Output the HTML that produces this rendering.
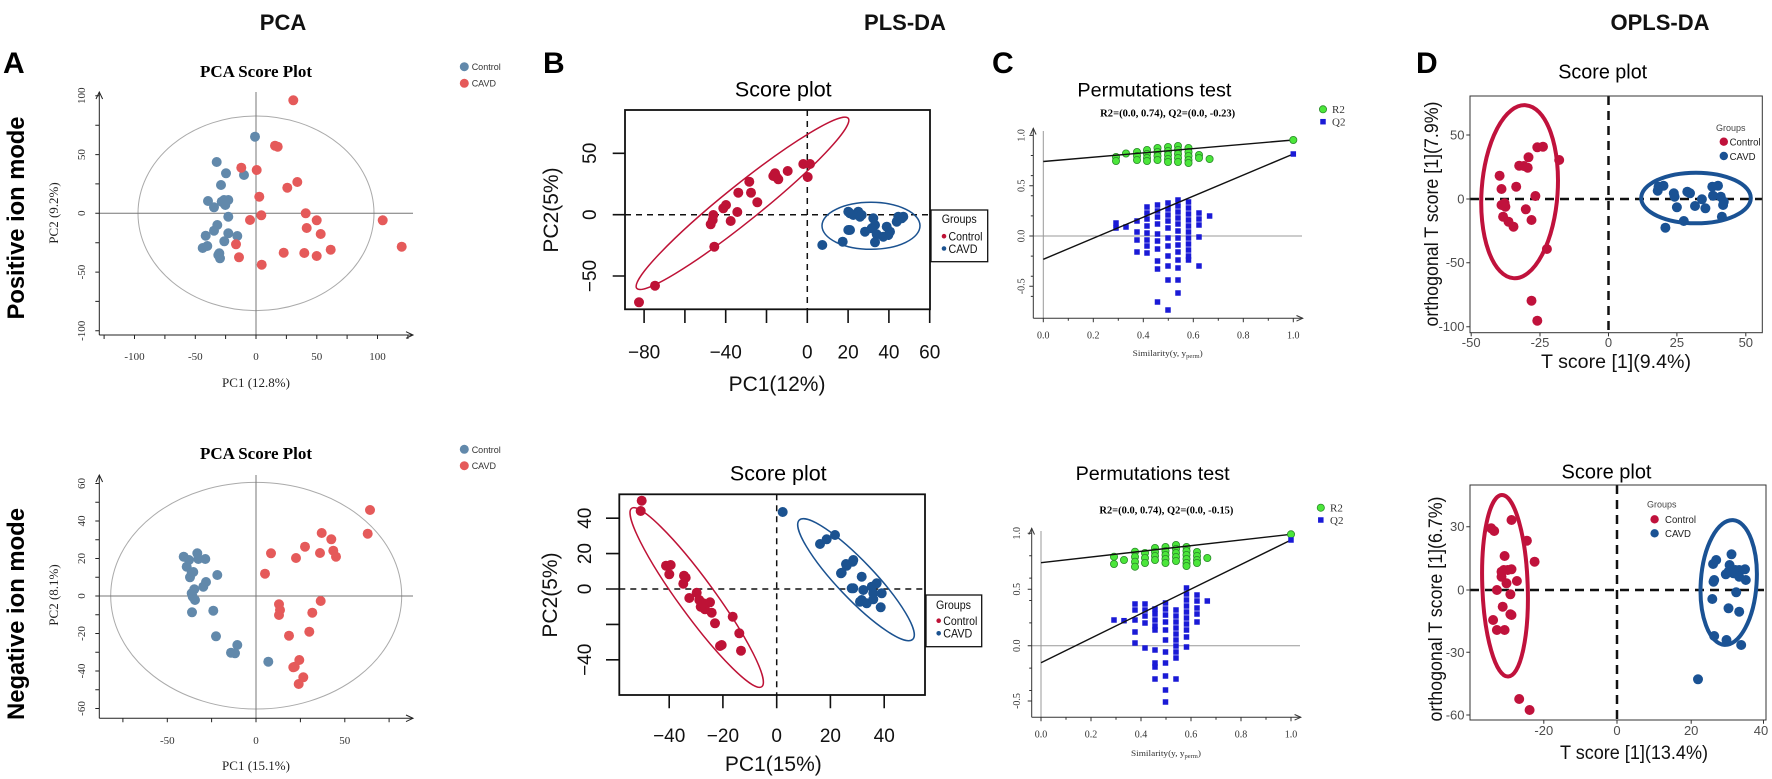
<!DOCTYPE html>
<html><head><meta charset="utf-8"><style>
html,body{margin:0;padding:0;background:#fff;}
svg{display:block;}
</style></head><body>
<svg width="1772" height="779" viewBox="0 0 1772 779" xmlns="http://www.w3.org/2000/svg" xmlns:xlink="http://www.w3.org/1999/xlink">
<defs>
<rect id="sq" x="-2.75" y="-2.75" width="5.5" height="5.5" fill="#1a1ad6"/>
<circle id="gc" r="3.6" fill="#4be63a" stroke="#2a8a2a" stroke-width="0.8"/>
</defs>
<rect width="1772" height="779" fill="#fff"/>

<!-- Headers -->
<g font-family="Liberation Sans, sans-serif" font-weight="bold" font-size="22" text-anchor="middle" fill="#111">
<text x="283" y="30">PCA</text>
<text x="905" y="30">PLS-DA</text>
<text x="1660" y="30">OPLS-DA</text>
</g>
<g font-family="Liberation Sans, sans-serif" font-weight="bold" font-size="30" fill="#000">
<text x="3" y="73">A</text>
<text x="543" y="73">B</text>
<text x="992" y="73">C</text>
<text x="1416" y="73">D</text>
</g>
<g font-family="Liberation Sans, sans-serif" font-weight="bold" font-size="24" text-anchor="middle" fill="#000">
<text transform="translate(24,218) rotate(-90)" textLength="203" lengthAdjust="spacingAndGlyphs">Positive ion mode</text>
<text transform="translate(24,614) rotate(-90)" textLength="212" lengthAdjust="spacingAndGlyphs">Negative ion mode</text>
</g>

<!-- ================= PANEL A TOP ================= -->
<text x="256" y="77" font-family="Liberation Serif, serif" font-weight="bold" font-size="17" text-anchor="middle">PCA Score Plot</text>
<circle cx="464.3" cy="66.7" r="4.5" fill="#6289ab"/>
<circle cx="464.3" cy="83.3" r="4.5" fill="#e55a5a"/>
<g font-family="Liberation Sans, sans-serif" font-size="9" fill="#333">
<text x="471.7" y="70">Control</text>
<text x="471.7" y="86.6">CAVD</text>
</g>
<ellipse cx="256" cy="213.3" rx="118" ry="97.3" fill="none" stroke="#aaa" stroke-width="1"/>
<g stroke="#777" stroke-width="1">
<line x1="256" y1="92" x2="256" y2="335"/>
<line x1="99.3" y1="213.3" x2="413" y2="213.3"/>
</g>
<g stroke="#222" stroke-width="1" fill="none">
<line x1="99.3" y1="335" x2="99.3" y2="92"/>
<polyline points="96,99 99.3,92 102.6,99"/>
<line x1="99.3" y1="335" x2="413" y2="335"/>
<polyline points="406,331.7 413,335 406,338.3"/>
<path d="M95.3 95.8H99.3M95.3 125.2H99.3M95.3 154.6H99.3M95.3 183.9H99.3M95.3 213.3H99.3M95.3 242.7H99.3M95.3 272.1H99.3M95.3 301.4H99.3M95.3 330.8H99.3"/>
<path d="M104.1 335V339M134.5 335V339M164.9 335V339M195.3 335V339M225.6 335V339M256 335V339M286.4 335V339M316.8 335V339M347.1 335V339M377.5 335V339M407.9 335V339"/>
</g>
<g font-family="Liberation Serif, serif" font-size="11" fill="#333" text-anchor="middle">
<text x="134.5" y="360">-100</text>
<text x="195.3" y="360">-50</text>
<text x="256" y="360">0</text>
<text x="316.8" y="360">50</text>
<text x="377.5" y="360">100</text>
<text transform="translate(85,95.8) rotate(-90)">100</text>
<text transform="translate(85,154.6) rotate(-90)">50</text>
<text transform="translate(85,213.3) rotate(-90)">0</text>
<text transform="translate(85,272.1) rotate(-90)">-50</text>
<text transform="translate(85,330.8) rotate(-90)">-100</text>
</g>
<g font-family="Liberation Serif, serif" font-size="13" fill="#222" text-anchor="middle">
<text transform="translate(58,213) rotate(-90)">PC2 (9.2%)</text>
<text x="256" y="387">PC1 (12.8%)</text>
</g>
<g fill="#6289ab">
<circle cx="255" cy="136.7" r="5"/><circle cx="216.7" cy="162" r="5"/><circle cx="226" cy="173.3" r="5"/><circle cx="244" cy="175" r="5"/>
<circle cx="221" cy="185" r="5"/><circle cx="208" cy="201" r="5"/><circle cx="214" cy="207.3" r="5"/><circle cx="221.7" cy="201.7" r="5"/>
<circle cx="225.3" cy="205" r="5"/><circle cx="228.3" cy="200" r="5"/><circle cx="224" cy="200" r="5"/><circle cx="228.3" cy="216.7" r="5"/>
<circle cx="217.3" cy="225" r="5"/><circle cx="214" cy="230.7" r="5"/><circle cx="205.7" cy="235.7" r="5"/><circle cx="228.3" cy="233.3" r="5"/>
<circle cx="237.3" cy="236" r="5"/><circle cx="224.3" cy="241.3" r="5"/><circle cx="202.7" cy="248" r="5"/><circle cx="207.3" cy="246" r="5"/>
<circle cx="219.3" cy="253.3" r="5"/><circle cx="220" cy="258.3" r="5"/><circle cx="218.3" cy="255" r="5"/>
</g>
<g fill="#e55a5a">
<circle cx="293.3" cy="100.3" r="5"/><circle cx="275" cy="145.7" r="5"/><circle cx="277.7" cy="146.7" r="5"/><circle cx="241.3" cy="167.7" r="5"/>
<circle cx="256.7" cy="170" r="5"/><circle cx="287.3" cy="187.7" r="5"/><circle cx="297.3" cy="182" r="5"/><circle cx="259.3" cy="196.7" r="5"/>
<circle cx="261.3" cy="215.3" r="5"/><circle cx="250" cy="220" r="5"/><circle cx="305.7" cy="213.3" r="5"/><circle cx="316.7" cy="220.3" r="5"/>
<circle cx="306.7" cy="228" r="5"/><circle cx="320.7" cy="234" r="5"/><circle cx="236" cy="244.3" r="5"/><circle cx="239" cy="257.3" r="5"/>
<circle cx="261.7" cy="264.7" r="5"/><circle cx="283.7" cy="252.7" r="5"/><circle cx="304.3" cy="253" r="5"/><circle cx="316.7" cy="256" r="5"/>
<circle cx="330.7" cy="249.7" r="5"/><circle cx="382.7" cy="220.3" r="5"/><circle cx="401.7" cy="246.7" r="5"/>
</g>

<!-- ================= PANEL A BOTTOM ================= -->
<text x="256" y="459" font-family="Liberation Serif, serif" font-weight="bold" font-size="17" text-anchor="middle">PCA Score Plot</text>
<circle cx="464.3" cy="449.3" r="4.5" fill="#6289ab"/>
<circle cx="464.3" cy="465.7" r="4.5" fill="#e55a5a"/>
<g font-family="Liberation Sans, sans-serif" font-size="9" fill="#333">
<text x="471.7" y="452.8">Control</text>
<text x="471.7" y="469.2">CAVD</text>
</g>
<ellipse cx="256.2" cy="595.7" rx="145.5" ry="113.3" fill="none" stroke="#aaa" stroke-width="1"/>
<g stroke="#777" stroke-width="1">
<line x1="256" y1="475" x2="256" y2="718.3"/>
<line x1="99.3" y1="596" x2="413" y2="596"/>
</g>
<g stroke="#222" stroke-width="1" fill="none">
<line x1="99.3" y1="718.3" x2="99.3" y2="475"/>
<polyline points="96,482 99.3,475 102.6,482"/>
<line x1="99.3" y1="718.3" x2="413" y2="718.3"/>
<polyline points="406,715 413,718.3 406,721.6"/>
<path d="M95.3 483.5H99.3M95.3 502.3H99.3M95.3 521H99.3M95.3 539.8H99.3M95.3 558.5H99.3M95.3 577.3H99.3M95.3 596H99.3M95.3 614.8H99.3M95.3 633.5H99.3M95.3 652.3H99.3M95.3 671H99.3M95.3 689.8H99.3M95.3 708.5H99.3"/>
<path d="M122.9 718.3V722.3M167.3 718.3V722.3M211.6 718.3V722.3M256 718.3V722.3M300.4 718.3V722.3M344.8 718.3V722.3M389.1 718.3V722.3"/>
</g>
<g font-family="Liberation Serif, serif" font-size="11" fill="#333" text-anchor="middle">
<text x="167.3" y="744">-50</text>
<text x="256" y="744">0</text>
<text x="344.8" y="744">50</text>
<text transform="translate(85,483.5) rotate(-90)">60</text>
<text transform="translate(85,521) rotate(-90)">40</text>
<text transform="translate(85,558.5) rotate(-90)">20</text>
<text transform="translate(85,596) rotate(-90)">0</text>
<text transform="translate(85,633.5) rotate(-90)">-20</text>
<text transform="translate(85,671) rotate(-90)">-40</text>
<text transform="translate(85,708.5) rotate(-90)">-60</text>
</g>
<g font-family="Liberation Serif, serif" font-size="13" fill="#222" text-anchor="middle">
<text transform="translate(58,595) rotate(-90)">PC2 (8.1%)</text>
<text x="256" y="770">PC1 (15.1%)</text>
</g>
<g fill="#6289ab">
<circle cx="183.7" cy="556.7" r="5"/><circle cx="189" cy="560" r="5"/><circle cx="197.3" cy="553.3" r="5"/><circle cx="198.3" cy="559" r="5"/>
<circle cx="205.3" cy="559" r="5"/><circle cx="186.7" cy="566.7" r="5"/><circle cx="191.7" cy="572.7" r="5"/><circle cx="190" cy="577.3" r="5"/>
<circle cx="193.3" cy="572" r="5"/><circle cx="217.3" cy="575" r="5"/><circle cx="206" cy="582" r="5"/><circle cx="203.3" cy="586.7" r="5"/>
<circle cx="194.3" cy="589.3" r="5"/><circle cx="191.7" cy="593.3" r="5"/><circle cx="192.7" cy="596.7" r="5"/><circle cx="195" cy="600" r="5"/>
<circle cx="192" cy="612.3" r="5"/><circle cx="213.3" cy="610.7" r="5"/><circle cx="216" cy="636.3" r="5"/><circle cx="237.3" cy="645" r="5"/>
<circle cx="231" cy="652.7" r="5"/><circle cx="235" cy="653.3" r="5"/><circle cx="268.3" cy="661.7" r="5"/>
</g>
<g fill="#e55a5a">
<circle cx="370" cy="510" r="5"/><circle cx="367.7" cy="533.7" r="5"/><circle cx="321.7" cy="533" r="5"/><circle cx="331.3" cy="539.3" r="5"/>
<circle cx="305" cy="546.7" r="5"/><circle cx="320" cy="553" r="5"/><circle cx="333.3" cy="550.7" r="5"/><circle cx="336" cy="556.7" r="5"/>
<circle cx="296" cy="558" r="5"/><circle cx="271" cy="553.3" r="5"/><circle cx="265" cy="573.7" r="5"/><circle cx="320.7" cy="601" r="5"/>
<circle cx="279" cy="604.3" r="5"/><circle cx="280" cy="610" r="5"/><circle cx="279" cy="615" r="5"/><circle cx="312.3" cy="612.7" r="5"/>
<circle cx="309.3" cy="631.7" r="5"/><circle cx="289" cy="635.7" r="5"/><circle cx="299.3" cy="660" r="5"/><circle cx="294.7" cy="666.7" r="5"/>
<circle cx="293.3" cy="667.3" r="5"/><circle cx="303.3" cy="677.3" r="5"/><circle cx="298.7" cy="684" r="5"/>
</g>

<!-- ================= PANEL B TOP ================= -->
<text x="783.3" y="96.7" font-family="Liberation Sans, sans-serif" font-size="21" text-anchor="middle" textLength="96.7" lengthAdjust="spacingAndGlyphs">Score plot</text>
<g stroke="#111" stroke-width="1.5" stroke-dasharray="6,5">
<line x1="625" y1="214.7" x2="930" y2="214.7"/>
<line x1="807.3" y1="110" x2="807.3" y2="309.3"/>
</g>
<ellipse cx="742.5" cy="203.3" rx="135.7" ry="18" transform="rotate(-38.8 742.5 203.3)" fill="none" stroke="#be1236" stroke-width="1.5"/>
<ellipse cx="871" cy="225.8" rx="49" ry="23.5" fill="none" stroke="#1b5290" stroke-width="1.5"/>
<rect x="625" y="110" width="305" height="199.3" fill="none" stroke="#111" stroke-width="1.8"/>
<g stroke="#111" stroke-width="1.6">
<path d="M644.1 309.3V323M684.9 309.3V323M725.7 309.3V323M766.5 309.3V323M807.3 309.3V323M848.1 309.3V323M888.9 309.3V323M929.7 309.3V323"/>
<path d="M612.7 153.3H625M612.7 214.7H625M612.7 276H625"/>
</g>
<g font-family="Liberation Sans, sans-serif" font-size="19" fill="#111" text-anchor="middle">
<text x="644.1" y="358.5">−80</text>
<text x="725.7" y="358.5">−40</text>
<text x="807.3" y="358.5">0</text>
<text x="848.1" y="358.5">20</text>
<text x="888.9" y="358.5">40</text>
<text x="929.7" y="358.5">60</text>
<text transform="translate(596,153.3) rotate(-90)">50</text>
<text transform="translate(596,214.7) rotate(-90)">0</text>
<text transform="translate(596,276) rotate(-90)">−50</text>
</g>
<g font-family="Liberation Sans, sans-serif" font-size="21" fill="#111" text-anchor="middle">
<text transform="translate(558,210) rotate(-90)">PC2(5%)</text>
<text x="777" y="391">PC1(12%)</text>
</g>
<g fill="#be1236">
<circle cx="639" cy="302.3" r="5"/><circle cx="655" cy="285.7" r="5"/><circle cx="714.3" cy="246.7" r="5"/><circle cx="710.7" cy="224.3" r="5"/>
<circle cx="712.7" cy="220" r="5"/><circle cx="713.3" cy="215" r="5"/><circle cx="723.3" cy="208.3" r="5"/><circle cx="726" cy="205" r="5"/>
<circle cx="730.7" cy="221" r="5"/><circle cx="737.3" cy="212" r="5"/><circle cx="738.3" cy="192.7" r="5"/><circle cx="749.3" cy="181.7" r="5"/>
<circle cx="751" cy="192.7" r="5"/><circle cx="757.3" cy="202.3" r="5"/><circle cx="773.3" cy="176" r="5"/><circle cx="776.7" cy="177.3" r="5"/>
<circle cx="778.3" cy="179.3" r="5"/><circle cx="775" cy="173.3" r="5"/><circle cx="787.7" cy="171" r="5"/><circle cx="803.3" cy="164" r="5"/>
<circle cx="810" cy="164" r="5"/><circle cx="807.7" cy="177" r="5"/>
</g>
<g fill="#1b5290">
<circle cx="858.3" cy="211.7" r="5"/><circle cx="853.3" cy="215" r="5"/><circle cx="860" cy="216.7" r="5"/><circle cx="873.3" cy="218.3" r="5"/>
<circle cx="875" cy="225" r="5"/><circle cx="871.7" cy="228.3" r="5"/><circle cx="850" cy="230" r="5"/><circle cx="865" cy="231.7" r="5"/>
<circle cx="876.7" cy="234.3" r="5"/><circle cx="886.7" cy="226.7" r="5"/><circle cx="890" cy="231.7" r="5"/><circle cx="888.3" cy="235" r="5"/>
<circle cx="896.7" cy="221.7" r="5"/><circle cx="901.7" cy="218.3" r="5"/><circle cx="898.3" cy="216.7" r="5"/><circle cx="903.3" cy="216.7" r="5"/>
<circle cx="875" cy="242.3" r="5"/><circle cx="842.7" cy="241.7" r="5"/><circle cx="883.3" cy="236.7" r="5"/><circle cx="822.3" cy="245" r="5"/>
<circle cx="848.3" cy="230" r="5"/><circle cx="850" cy="213.3" r="5"/><circle cx="861.7" cy="215" r="5"/><circle cx="848.3" cy="211.7" r="5"/>
</g>
<rect x="931" y="210" width="56.7" height="51.7" fill="#fff" stroke="#111" stroke-width="1.3"/>
<g font-family="Liberation Sans, sans-serif" font-size="12" fill="#111">
<text x="941.7" y="223" textLength="35" lengthAdjust="spacingAndGlyphs">Groups</text>
<text x="948.5" y="240.5" textLength="34" lengthAdjust="spacingAndGlyphs">Control</text>
<text x="948.5" y="253" textLength="29" lengthAdjust="spacingAndGlyphs">CAVD</text>
</g>
<circle cx="944" cy="236.2" r="2.3" fill="#be1236"/>
<circle cx="944" cy="248.5" r="2.3" fill="#1b5290"/>

<!-- ================= PANEL B BOTTOM ================= -->
<text x="778.3" y="480.7" font-family="Liberation Sans, sans-serif" font-size="21" text-anchor="middle" textLength="96.7" lengthAdjust="spacingAndGlyphs">Score plot</text>
<g stroke="#111" stroke-width="1.5" stroke-dasharray="6,5">
<line x1="619.3" y1="589" x2="925" y2="589"/>
<line x1="776.7" y1="494.3" x2="776.7" y2="695"/>
</g>
<ellipse cx="696.7" cy="597.5" rx="110.4" ry="18" transform="rotate(53.9 696.7 597.5)" fill="none" stroke="#be1236" stroke-width="1.5"/>
<ellipse cx="856" cy="579.7" rx="82.3" ry="18.5" transform="rotate(46.45 856 579.7)" fill="none" stroke="#1b5290" stroke-width="1.5"/>
<rect x="619.3" y="494.3" width="305.7" height="200.7" fill="none" stroke="#111" stroke-width="1.8"/>
<g stroke="#111" stroke-width="1.6">
<path d="M669.2 695V708.3M722.9 695V708.3M776.7 695V708.3M830.4 695V708.3M884.2 695V708.3"/>
<path d="M606 518.2H619.3M606 553.6H619.3M606 589H619.3M606 624.4H619.3M606 659.8H619.3"/>
</g>
<g font-family="Liberation Sans, sans-serif" font-size="19" fill="#111" text-anchor="middle">
<text x="669.2" y="742">−40</text>
<text x="722.9" y="742">−20</text>
<text x="776.7" y="742">0</text>
<text x="830.4" y="742">20</text>
<text x="884.2" y="742">40</text>
<text transform="translate(591,518.2) rotate(-90)">40</text>
<text transform="translate(591,553.6) rotate(-90)">20</text>
<text transform="translate(591,589) rotate(-90)">0</text>
<text transform="translate(591,659.8) rotate(-90)">−40</text>
</g>
<g font-family="Liberation Sans, sans-serif" font-size="21" fill="#111" text-anchor="middle">
<text transform="translate(557,595) rotate(-90)">PC2(5%)</text>
<text x="773.3" y="771">PC1(15%)</text>
</g>
<g fill="#be1236">
<circle cx="641.7" cy="500.7" r="5"/><circle cx="640.7" cy="511" r="5"/><circle cx="666" cy="565.7" r="5"/><circle cx="670.7" cy="565" r="5"/>
<circle cx="669.3" cy="574.3" r="5"/><circle cx="684" cy="575.7" r="5"/><circle cx="685.7" cy="577.7" r="5"/><circle cx="683.3" cy="583.7" r="5"/>
<circle cx="696.7" cy="592.7" r="5"/><circle cx="689.3" cy="598" r="5"/><circle cx="699.3" cy="600" r="5"/><circle cx="710" cy="602.3" r="5"/>
<circle cx="700.7" cy="606.7" r="5"/><circle cx="705" cy="609.3" r="5"/><circle cx="711.7" cy="612.7" r="5"/><circle cx="704" cy="608.3" r="5"/>
<circle cx="715" cy="623.3" r="5"/><circle cx="732.7" cy="616.7" r="5"/><circle cx="739.3" cy="633.3" r="5"/><circle cx="721.7" cy="645" r="5"/>
<circle cx="720" cy="646" r="5"/><circle cx="741" cy="650.7" r="5"/><circle cx="703.3" cy="603.3" r="5"/>
</g>
<g fill="#1b5290">
<circle cx="782.7" cy="512" r="5"/><circle cx="820" cy="544" r="5"/><circle cx="826.7" cy="539.3" r="5"/><circle cx="835" cy="535" r="5"/>
<circle cx="841" cy="573.3" r="5"/><circle cx="846.7" cy="565.7" r="5"/><circle cx="852.7" cy="561.7" r="5"/><circle cx="853.3" cy="588.3" r="5"/>
<circle cx="860" cy="601.7" r="5"/><circle cx="846" cy="564" r="5"/><circle cx="853.3" cy="560" r="5"/><circle cx="841.7" cy="572.7" r="5"/>
<circle cx="861.7" cy="576.7" r="5"/><circle cx="851.7" cy="588.3" r="5"/><circle cx="863.3" cy="590" r="5"/><circle cx="871.7" cy="586.7" r="5"/>
<circle cx="876.7" cy="583.3" r="5"/><circle cx="873.3" cy="593.3" r="5"/><circle cx="881.7" cy="593.3" r="5"/><circle cx="861.7" cy="600" r="5"/>
<circle cx="866.7" cy="603.3" r="5"/><circle cx="880.7" cy="607.3" r="5"/><circle cx="873.3" cy="599.3" r="5"/>
</g>
<rect x="926" y="595" width="55.7" height="51.7" fill="#fff" stroke="#111" stroke-width="1.3"/>
<g font-family="Liberation Sans, sans-serif" font-size="12" fill="#111">
<text x="936" y="609" textLength="35" lengthAdjust="spacingAndGlyphs">Groups</text>
<text x="943.3" y="625" textLength="34" lengthAdjust="spacingAndGlyphs">Control</text>
<text x="943.3" y="637.5" textLength="29" lengthAdjust="spacingAndGlyphs">CAVD</text>
</g>
<circle cx="938.7" cy="620.7" r="2.3" fill="#be1236"/>
<circle cx="938.7" cy="633.3" r="2.3" fill="#1b5290"/>

<!-- ================= PANEL C TOP ================= -->
<text x="1154.4" y="96.7" font-family="Liberation Sans, sans-serif" font-size="19" text-anchor="middle" textLength="154" lengthAdjust="spacingAndGlyphs">Permutations test</text>
<text x="1167.7" y="116.7" font-family="Liberation Serif, serif" font-weight="bold" font-size="10" text-anchor="middle" textLength="135" lengthAdjust="spacingAndGlyphs">R2=(0.0, 0.74), Q2=(0.0, -0.23)</text>
<g stroke="#999" stroke-width="1">
<line x1="1043.3" y1="131" x2="1043.3" y2="318.3"/>
<line x1="1033.3" y1="236" x2="1302" y2="236"/>
</g>
<g stroke="#333" stroke-width="1" fill="none">
<line x1="1033.3" y1="318.3" x2="1033.3" y2="128.3"/>
<polyline points="1030.5,134.5 1033.3,128.3 1036.1,134.5"/>
<line x1="1033.3" y1="318.3" x2="1302.7" y2="318.3"/>
<polyline points="1296.5,315.5 1302.7,318.3 1296.5,321.1"/>
<path d="M1029.3 135.4H1033.3M1030.8 155.5H1033.3M1030.8 175.6H1033.3M1030.8 195.8H1033.3M1030.8 215.9H1033.3M1029.3 185.7H1033.3M1029.3 236H1033.3M1030.8 256.1H1033.3M1030.8 276.2H1033.3M1029.3 286.3H1033.3M1030.8 296.4H1033.3"/>
<path d="M1043.3 318.3V322.3M1068.3 318.3V320.8M1093.3 318.3V322.3M1118.3 318.3V320.8M1143.3 318.3V322.3M1168.3 318.3V320.8M1193.3 318.3V322.3M1218.3 318.3V320.8M1243.3 318.3V322.3M1268.3 318.3V320.8M1293.3 318.3V322.3"/>
</g>
<g font-family="Liberation Serif, serif" font-size="10" fill="#333" text-anchor="middle">
<text x="1043.3" y="338.5">0.0</text>
<text x="1093.3" y="338.5">0.2</text>
<text x="1143.3" y="338.5">0.4</text>
<text x="1193.3" y="338.5">0.6</text>
<text x="1243.3" y="338.5">0.8</text>
<text x="1293.3" y="338.5">1.0</text>
<text transform="translate(1024.5,135.4) rotate(-90)">1.0</text>
<text transform="translate(1024.5,185.7) rotate(-90)">0.5</text>
<text transform="translate(1024.5,236) rotate(-90)">0.0</text>
<text transform="translate(1024.5,286.3) rotate(-90)">-0.5</text>
</g>
<text x="1132.7" y="356" font-family="Liberation Serif, serif" font-size="8.5" fill="#333" textLength="70" lengthAdjust="spacingAndGlyphs">Similarity(y, y<tspan font-size="6" dy="2">perm</tspan><tspan dy="-2">)</tspan></text>
<g>
<use xlink:href="#sq" x="1116" y="223"/><use xlink:href="#sq" x="1116" y="228"/>
<use xlink:href="#sq" x="1126" y="227"/>
<use xlink:href="#sq" x="1137" y="221"/><use xlink:href="#sq" x="1137" y="232"/><use xlink:href="#sq" x="1137" y="240"/><use xlink:href="#sq" x="1137" y="252"/>
<use xlink:href="#sq" x="1147" y="207"/><use xlink:href="#sq" x="1147" y="213"/><use xlink:href="#sq" x="1147" y="219"/><use xlink:href="#sq" x="1147" y="226"/><use xlink:href="#sq" x="1147" y="233"/><use xlink:href="#sq" x="1147" y="240"/><use xlink:href="#sq" x="1147" y="246"/><use xlink:href="#sq" x="1147" y="253"/>
<use xlink:href="#sq" x="1157.5" y="205"/><use xlink:href="#sq" x="1157.5" y="211"/><use xlink:href="#sq" x="1157.5" y="217"/><use xlink:href="#sq" x="1157.5" y="224"/><use xlink:href="#sq" x="1157.5" y="234"/><use xlink:href="#sq" x="1157.5" y="241"/><use xlink:href="#sq" x="1157.5" y="249"/><use xlink:href="#sq" x="1157.5" y="261"/><use xlink:href="#sq" x="1157.5" y="269"/><use xlink:href="#sq" x="1157.5" y="302"/>
<use xlink:href="#sq" x="1168" y="203"/><use xlink:href="#sq" x="1168" y="209"/><use xlink:href="#sq" x="1168" y="215"/><use xlink:href="#sq" x="1168" y="221"/><use xlink:href="#sq" x="1168" y="228"/><use xlink:href="#sq" x="1168" y="238"/><use xlink:href="#sq" x="1168" y="246"/><use xlink:href="#sq" x="1168" y="256"/><use xlink:href="#sq" x="1168" y="266"/><use xlink:href="#sq" x="1168" y="280"/><use xlink:href="#sq" x="1168" y="310"/>
<use xlink:href="#sq" x="1178" y="200"/><use xlink:href="#sq" x="1178" y="206"/><use xlink:href="#sq" x="1178" y="212"/><use xlink:href="#sq" x="1178" y="218"/><use xlink:href="#sq" x="1178" y="224"/><use xlink:href="#sq" x="1178" y="231"/><use xlink:href="#sq" x="1178" y="238"/><use xlink:href="#sq" x="1178" y="245"/><use xlink:href="#sq" x="1178" y="252"/><use xlink:href="#sq" x="1178" y="260"/><use xlink:href="#sq" x="1178" y="268"/><use xlink:href="#sq" x="1178" y="280"/><use xlink:href="#sq" x="1178" y="293"/>
<use xlink:href="#sq" x="1188.5" y="202"/><use xlink:href="#sq" x="1188.5" y="208"/><use xlink:href="#sq" x="1188.5" y="214"/><use xlink:href="#sq" x="1188.5" y="220"/><use xlink:href="#sq" x="1188.5" y="226"/><use xlink:href="#sq" x="1188.5" y="232"/><use xlink:href="#sq" x="1188.5" y="238"/><use xlink:href="#sq" x="1188.5" y="244"/><use xlink:href="#sq" x="1188.5" y="250"/><use xlink:href="#sq" x="1188.5" y="256"/><use xlink:href="#sq" x="1188.5" y="260"/>
<use xlink:href="#sq" x="1199" y="213"/><use xlink:href="#sq" x="1199" y="219"/><use xlink:href="#sq" x="1199" y="225"/><use xlink:href="#sq" x="1199" y="237"/><use xlink:href="#sq" x="1199" y="266"/>
<use xlink:href="#sq" x="1209.6" y="216"/>
</g>
<g>
<use xlink:href="#gc" x="1116" y="157"/><use xlink:href="#gc" x="1116" y="161"/>
<use xlink:href="#gc" x="1126" y="153.5"/>
<use xlink:href="#gc" x="1137" y="152"/><use xlink:href="#gc" x="1137" y="156"/><use xlink:href="#gc" x="1137" y="160"/>
<use xlink:href="#gc" x="1147" y="150"/><use xlink:href="#gc" x="1147" y="154"/><use xlink:href="#gc" x="1147" y="158"/><use xlink:href="#gc" x="1147" y="161"/>
<use xlink:href="#gc" x="1157.5" y="148"/><use xlink:href="#gc" x="1157.5" y="152"/><use xlink:href="#gc" x="1157.5" y="156"/><use xlink:href="#gc" x="1157.5" y="160"/>
<use xlink:href="#gc" x="1168" y="147"/><use xlink:href="#gc" x="1168" y="151"/><use xlink:href="#gc" x="1168" y="155"/><use xlink:href="#gc" x="1168" y="159"/><use xlink:href="#gc" x="1168" y="162"/>
<use xlink:href="#gc" x="1178" y="146"/><use xlink:href="#gc" x="1178" y="150"/><use xlink:href="#gc" x="1178" y="154"/><use xlink:href="#gc" x="1178" y="158"/><use xlink:href="#gc" x="1178" y="162"/>
<use xlink:href="#gc" x="1188.5" y="148"/><use xlink:href="#gc" x="1188.5" y="152"/><use xlink:href="#gc" x="1188.5" y="156"/><use xlink:href="#gc" x="1188.5" y="160"/><use xlink:href="#gc" x="1188.5" y="163"/>
<use xlink:href="#gc" x="1199" y="155"/><use xlink:href="#gc" x="1199" y="158"/>
<use xlink:href="#gc" x="1209.6" y="159"/>
</g>
<g stroke="#111" stroke-width="1.4">
<line x1="1043.3" y1="161.5" x2="1293.3" y2="140"/>
<line x1="1043.3" y1="259.3" x2="1293.3" y2="154"/>
</g>
<use xlink:href="#gc" x="1293.3" y="140"/>
<use xlink:href="#sq" x="1293.3" y="154"/>
<use xlink:href="#gc" x="1323" y="109.3"/>
<use xlink:href="#sq" x="1323" y="121.7"/>
<g font-family="Liberation Serif, serif" font-size="11" fill="#333">
<text x="1332" y="113">R2</text>
<text x="1332" y="125.5">Q2</text>
</g>

<!-- ================= PANEL C BOTTOM ================= -->
<text x="1152.6" y="480" font-family="Liberation Sans, sans-serif" font-size="19" text-anchor="middle" textLength="154" lengthAdjust="spacingAndGlyphs">Permutations test</text>
<text x="1166.4" y="513.3" font-family="Liberation Serif, serif" font-weight="bold" font-size="10" text-anchor="middle" textLength="134" lengthAdjust="spacingAndGlyphs">R2=(0.0, 0.74), Q2=(0.0, -0.15)</text>
<g stroke="#999" stroke-width="1">
<line x1="1041" y1="531" x2="1041" y2="717.3"/>
<line x1="1031.7" y1="645.7" x2="1300" y2="645.7"/>
</g>
<g stroke="#333" stroke-width="1" fill="none">
<line x1="1031.7" y1="717.3" x2="1031.7" y2="528.3"/>
<polyline points="1028.9,534.5 1031.7,528.3 1034.5,534.5"/>
<line x1="1031.7" y1="717.3" x2="1300.8" y2="717.3"/>
<polyline points="1294.6,714.5 1300.8,717.3 1294.6,720.1"/>
<path d="M1027.7 533.3H1031.7M1029.2 555.7H1031.7M1029.2 578.1H1031.7M1027.7 589.3H1031.7M1029.2 600.5H1031.7M1029.2 622.9H1031.7M1027.7 645.7H1031.7M1029.2 668.1H1031.7M1029.2 690.5H1031.7M1027.7 701H1031.7"/>
<path d="M1041 717.3V721.3M1066 717.3V719.8M1091 717.3V721.3M1116 717.3V719.8M1141 717.3V721.3M1166 717.3V719.8M1191 717.3V721.3M1216 717.3V719.8M1241 717.3V721.3M1266 717.3V719.8M1291 717.3V721.3"/>
</g>
<g font-family="Liberation Serif, serif" font-size="10" fill="#333" text-anchor="middle">
<text x="1041" y="737.5">0.0</text>
<text x="1091" y="737.5">0.2</text>
<text x="1141" y="737.5">0.4</text>
<text x="1191" y="737.5">0.6</text>
<text x="1241" y="737.5">0.8</text>
<text x="1291" y="737.5">1.0</text>
<text transform="translate(1020,533.3) rotate(-90)">1.0</text>
<text transform="translate(1020,589.3) rotate(-90)">0.5</text>
<text transform="translate(1020,645.7) rotate(-90)">0.0</text>
<text transform="translate(1020,701) rotate(-90)">-0.5</text>
</g>
<text x="1131" y="756" font-family="Liberation Serif, serif" font-size="8.5" fill="#333" textLength="70" lengthAdjust="spacingAndGlyphs">Similarity(y, y<tspan font-size="6" dy="2">perm</tspan><tspan dy="-2">)</tspan></text>
<g>
<use xlink:href="#sq" x="1114" y="620"/>
<use xlink:href="#sq" x="1124" y="620.7"/>
<use xlink:href="#sq" x="1135" y="604"/><use xlink:href="#sq" x="1135" y="610"/><use xlink:href="#sq" x="1135" y="620"/><use xlink:href="#sq" x="1135" y="632"/><use xlink:href="#sq" x="1135" y="643"/>
<use xlink:href="#sq" x="1145" y="604"/><use xlink:href="#sq" x="1145" y="610"/><use xlink:href="#sq" x="1145" y="616"/><use xlink:href="#sq" x="1145" y="623"/><use xlink:href="#sq" x="1145" y="648"/>
<use xlink:href="#sq" x="1155" y="609"/><use xlink:href="#sq" x="1155" y="614"/><use xlink:href="#sq" x="1155" y="620"/><use xlink:href="#sq" x="1155" y="626"/><use xlink:href="#sq" x="1155" y="630"/><use xlink:href="#sq" x="1155" y="650"/><use xlink:href="#sq" x="1155" y="663"/><use xlink:href="#sq" x="1155" y="667"/><use xlink:href="#sq" x="1155" y="679"/>
<use xlink:href="#sq" x="1165.5" y="603"/><use xlink:href="#sq" x="1165.5" y="609"/><use xlink:href="#sq" x="1165.5" y="615"/><use xlink:href="#sq" x="1165.5" y="622"/><use xlink:href="#sq" x="1165.5" y="630"/><use xlink:href="#sq" x="1165.5" y="640"/><use xlink:href="#sq" x="1165.5" y="652"/><use xlink:href="#sq" x="1165.5" y="663"/><use xlink:href="#sq" x="1165.5" y="676"/><use xlink:href="#sq" x="1165.5" y="690"/><use xlink:href="#sq" x="1165.5" y="702"/>
<use xlink:href="#sq" x="1176" y="610"/><use xlink:href="#sq" x="1176" y="616"/><use xlink:href="#sq" x="1176" y="622"/><use xlink:href="#sq" x="1176" y="628"/><use xlink:href="#sq" x="1176" y="634"/><use xlink:href="#sq" x="1176" y="640"/><use xlink:href="#sq" x="1176" y="646"/><use xlink:href="#sq" x="1176" y="652"/><use xlink:href="#sq" x="1176" y="658"/><use xlink:href="#sq" x="1176" y="679"/>
<use xlink:href="#sq" x="1186.5" y="588"/><use xlink:href="#sq" x="1186.5" y="594"/><use xlink:href="#sq" x="1186.5" y="600"/><use xlink:href="#sq" x="1186.5" y="606"/><use xlink:href="#sq" x="1186.5" y="612"/><use xlink:href="#sq" x="1186.5" y="618"/><use xlink:href="#sq" x="1186.5" y="624"/><use xlink:href="#sq" x="1186.5" y="630"/><use xlink:href="#sq" x="1186.5" y="637"/><use xlink:href="#sq" x="1186.5" y="647"/>
<use xlink:href="#sq" x="1197" y="595"/><use xlink:href="#sq" x="1197" y="601"/><use xlink:href="#sq" x="1197" y="608"/><use xlink:href="#sq" x="1197" y="614"/><use xlink:href="#sq" x="1197" y="622"/>
<use xlink:href="#sq" x="1207.3" y="601"/>
</g>
<g>
<use xlink:href="#gc" x="1114" y="556.7"/><use xlink:href="#gc" x="1114" y="564"/>
<use xlink:href="#gc" x="1124" y="560"/>
<use xlink:href="#gc" x="1135" y="551.7"/><use xlink:href="#gc" x="1135" y="556.7"/><use xlink:href="#gc" x="1135" y="561.7"/><use xlink:href="#gc" x="1135" y="566.7"/>
<use xlink:href="#gc" x="1145" y="553"/><use xlink:href="#gc" x="1145" y="558"/><use xlink:href="#gc" x="1145" y="563"/>
<use xlink:href="#gc" x="1155" y="548"/><use xlink:href="#gc" x="1155" y="552"/><use xlink:href="#gc" x="1155" y="556"/><use xlink:href="#gc" x="1155" y="560"/>
<use xlink:href="#gc" x="1165.5" y="547"/><use xlink:href="#gc" x="1165.5" y="551"/><use xlink:href="#gc" x="1165.5" y="555"/><use xlink:href="#gc" x="1165.5" y="559"/><use xlink:href="#gc" x="1165.5" y="563"/>
<use xlink:href="#gc" x="1176" y="545"/><use xlink:href="#gc" x="1176" y="549"/><use xlink:href="#gc" x="1176" y="553"/><use xlink:href="#gc" x="1176" y="557"/><use xlink:href="#gc" x="1176" y="561"/>
<use xlink:href="#gc" x="1186.5" y="547"/><use xlink:href="#gc" x="1186.5" y="551"/><use xlink:href="#gc" x="1186.5" y="555"/><use xlink:href="#gc" x="1186.5" y="559"/><use xlink:href="#gc" x="1186.5" y="563"/><use xlink:href="#gc" x="1186.5" y="566"/>
<use xlink:href="#gc" x="1197" y="552"/><use xlink:href="#gc" x="1197" y="556"/><use xlink:href="#gc" x="1197" y="560"/><use xlink:href="#gc" x="1197" y="563"/>
<use xlink:href="#gc" x="1207.3" y="558"/>
</g>
<g stroke="#111" stroke-width="1.4">
<line x1="1041" y1="562.7" x2="1291" y2="534.3"/>
<line x1="1041" y1="662.7" x2="1291" y2="540"/>
</g>
<use xlink:href="#gc" x="1291" y="534.3"/>
<use xlink:href="#sq" x="1291" y="540"/>
<use xlink:href="#gc" x="1320.8" y="507.7"/>
<use xlink:href="#sq" x="1320.8" y="520"/>
<g font-family="Liberation Serif, serif" font-size="11" fill="#333">
<text x="1330" y="511.5">R2</text>
<text x="1330" y="524">Q2</text>
</g>

<!-- ================= PANEL D TOP ================= -->
<text x="1602.7" y="78.3" font-family="Liberation Sans, sans-serif" font-size="20" text-anchor="middle" textLength="89" lengthAdjust="spacingAndGlyphs">Score plot</text>
<g stroke="#111" stroke-width="2.5" stroke-dasharray="9,6">
<line x1="1470" y1="199" x2="1762.3" y2="199"/>
<line x1="1608.5" y1="96" x2="1608.5" y2="332.7"/>
</g>
<ellipse cx="1519.6" cy="191.7" rx="38" ry="86.7" transform="rotate(4 1519.6 191.7)" fill="none" stroke="#c0123c" stroke-width="4"/>
<ellipse cx="1696" cy="198" rx="54.8" ry="25.3" fill="none" stroke="#1a5294" stroke-width="4"/>
<g fill="#c0123c">
<circle cx="1499.6" cy="175.7" r="5"/><circle cx="1501.5" cy="189" r="5"/><circle cx="1516.2" cy="186.7" r="5"/><circle cx="1519.2" cy="165.7" r="5"/>
<circle cx="1528.5" cy="157.3" r="5"/><circle cx="1527.7" cy="167.7" r="5"/><circle cx="1523.8" cy="166" r="5"/><circle cx="1537.3" cy="147.3" r="5"/>
<circle cx="1543" cy="146.7" r="5"/><circle cx="1559.2" cy="160" r="5"/><circle cx="1535.4" cy="196" r="5"/><circle cx="1504.6" cy="203.3" r="5"/>
<circle cx="1505.4" cy="206.7" r="5"/><circle cx="1503.1" cy="216.7" r="5"/><circle cx="1525.8" cy="209.3" r="5"/><circle cx="1508.5" cy="221.7" r="5"/>
<circle cx="1513.5" cy="226.7" r="5"/><circle cx="1531.5" cy="220" r="5"/><circle cx="1546.9" cy="249" r="5"/><circle cx="1531.5" cy="300.7" r="5"/>
<circle cx="1537.3" cy="320.7" r="5"/><circle cx="1501.5" cy="205" r="5"/>
</g>
<g fill="#1a5294">
<circle cx="1658.5" cy="186.7" r="5"/><circle cx="1663.5" cy="185.7" r="5"/><circle cx="1657.7" cy="190.7" r="5"/><circle cx="1673.8" cy="193.3" r="5"/>
<circle cx="1674.6" cy="196.7" r="5"/><circle cx="1687.3" cy="191.7" r="5"/><circle cx="1690" cy="193.3" r="5"/><circle cx="1676.9" cy="207.3" r="5"/>
<circle cx="1695" cy="206" r="5"/><circle cx="1701.9" cy="199.3" r="5"/><circle cx="1705.4" cy="208.3" r="5"/><circle cx="1712.3" cy="186.7" r="5"/>
<circle cx="1718" cy="185.7" r="5"/><circle cx="1713" cy="195.7" r="5"/><circle cx="1720.8" cy="196.7" r="5"/><circle cx="1723.8" cy="201.7" r="5"/>
<circle cx="1723.1" cy="205" r="5"/><circle cx="1721.9" cy="216.7" r="5"/><circle cx="1683.8" cy="221" r="5"/><circle cx="1665.4" cy="227.7" r="5"/>
</g>
<rect x="1470" y="96" width="292.3" height="236.7" fill="none" stroke="#333" stroke-width="1"/>
<g stroke="#333" stroke-width="1">
<path d="M1466.3 135H1470M1466.3 199H1470M1466.3 262.7H1470M1466.3 326.7H1470"/>
<path d="M1471.2 332.7V336.4M1540 332.7V336.4M1608.5 332.7V336.4M1676.9 332.7V336.4M1745.8 332.7V336.4"/>
</g>
<g font-family="Liberation Sans, sans-serif" font-size="13" fill="#4d4d4d">
<g text-anchor="end">
<text x="1464.5" y="139.5">50</text>
<text x="1464.5" y="203.5">0</text>
<text x="1464.5" y="267.2">-50</text>
<text x="1464.5" y="331.2">-100</text>
</g>
<g text-anchor="middle">
<text x="1471.2" y="347">-50</text>
<text x="1540" y="347">-25</text>
<text x="1608.5" y="347">0</text>
<text x="1676.9" y="347">25</text>
<text x="1745.8" y="347">50</text>
</g>
</g>
<g font-family="Liberation Sans, sans-serif" font-size="19" fill="#111" text-anchor="middle">
<text x="1616" y="368" textLength="150" lengthAdjust="spacingAndGlyphs">T score [1](9.4%)</text>
<text transform="translate(1438,214) rotate(-90)" textLength="225" lengthAdjust="spacingAndGlyphs">orthogonal T score [1](7.9%)</text>
</g>
<text x="1716" y="131" font-family="Liberation Sans, sans-serif" font-size="9" fill="#444">Groups</text>
<circle cx="1723.8" cy="141.7" r="4.2" fill="#c0123c"/>
<circle cx="1723.8" cy="156" r="4.2" fill="#1a5294"/>
<g font-family="Liberation Sans, sans-serif" font-size="10.5" fill="#222">
<text x="1729.6" y="145.5" textLength="31" lengthAdjust="spacingAndGlyphs">Control</text>
<text x="1729.6" y="159.8" textLength="26" lengthAdjust="spacingAndGlyphs">CAVD</text>
</g>

<!-- ================= PANEL D BOTTOM ================= -->
<text x="1606.5" y="478.3" font-family="Liberation Sans, sans-serif" font-size="20" text-anchor="middle" textLength="90" lengthAdjust="spacingAndGlyphs">Score plot</text>
<g stroke="#111" stroke-width="2.5" stroke-dasharray="9,6">
<line x1="1470" y1="590" x2="1766" y2="590"/>
<line x1="1617" y1="485" x2="1617" y2="720"/>
</g>
<ellipse cx="1505" cy="585.8" rx="22.7" ry="90.8" transform="rotate(-2 1505 585.8)" fill="none" stroke="#c0123c" stroke-width="4"/>
<ellipse cx="1728.7" cy="582.5" rx="27.9" ry="62.5" transform="rotate(4 1728.7 582.5)" fill="none" stroke="#1a5294" stroke-width="4"/>
<g fill="#c0123c">
<circle cx="1511.5" cy="520" r="5"/><circle cx="1491.2" cy="528.3" r="5"/><circle cx="1494.2" cy="531" r="5"/><circle cx="1526.9" cy="540.7" r="5"/>
<circle cx="1534.6" cy="561.7" r="5"/><circle cx="1504.6" cy="556" r="5"/><circle cx="1503.8" cy="570" r="5"/><circle cx="1507.7" cy="570" r="5"/>
<circle cx="1511.5" cy="569.3" r="5"/><circle cx="1501.5" cy="576.7" r="5"/><circle cx="1506.5" cy="583.3" r="5"/><circle cx="1516.9" cy="581" r="5"/>
<circle cx="1496.9" cy="590" r="5"/><circle cx="1510.4" cy="594.3" r="5"/><circle cx="1502.7" cy="606.7" r="5"/><circle cx="1510.4" cy="614.3" r="5"/>
<circle cx="1511.5" cy="615" r="5"/><circle cx="1493.1" cy="620" r="5"/><circle cx="1496.9" cy="630" r="5"/><circle cx="1504.6" cy="630" r="5"/>
<circle cx="1519.2" cy="699" r="5"/><circle cx="1529.6" cy="710" r="5"/><circle cx="1501.5" cy="571.7" r="5"/>
</g>
<g fill="#1a5294">
<circle cx="1731.5" cy="554.3" r="5"/><circle cx="1716.2" cy="560" r="5"/><circle cx="1713.1" cy="564" r="5"/><circle cx="1729.6" cy="565" r="5"/>
<circle cx="1728.5" cy="571.7" r="5"/><circle cx="1735.4" cy="570" r="5"/><circle cx="1725.8" cy="574.3" r="5"/><circle cx="1739.2" cy="570" r="5"/>
<circle cx="1745" cy="569.3" r="5"/><circle cx="1733.5" cy="573.3" r="5"/><circle cx="1739.2" cy="576.7" r="5"/><circle cx="1745.8" cy="580" r="5"/>
<circle cx="1714.2" cy="580" r="5"/><circle cx="1713.5" cy="581.7" r="5"/><circle cx="1736.2" cy="592.3" r="5"/><circle cx="1712.3" cy="599" r="5"/>
<circle cx="1728.5" cy="608.3" r="5"/><circle cx="1739.2" cy="611.7" r="5"/><circle cx="1714.2" cy="636" r="5"/><circle cx="1726.5" cy="640" r="5"/>
<circle cx="1741.2" cy="645" r="5"/><circle cx="1698" cy="679.3" r="5"/>
</g>
<rect x="1470" y="485" width="296" height="235" fill="none" stroke="#333" stroke-width="1"/>
<g stroke="#333" stroke-width="1">
<path d="M1466.3 526.7H1470M1466.3 590H1470M1466.3 652.3H1470M1466.3 715H1470"/>
<path d="M1543.8 720V723.7M1617 720V723.7M1691.2 720V723.7M1763.5 720V723.7"/>
</g>
<g font-family="Liberation Sans, sans-serif" font-size="13" fill="#4d4d4d">
<g text-anchor="end">
<text x="1464.5" y="531.2">30</text>
<text x="1464.5" y="594.5">0</text>
<text x="1464.5" y="656.8">-30</text>
<text x="1464.5" y="719.5">-60</text>
</g>
<g text-anchor="middle">
<text x="1543.8" y="735">-20</text>
<text x="1617" y="735">0</text>
<text x="1691.2" y="735">20</text>
<text x="1761" y="735">40</text>
</g>
</g>
<g font-family="Liberation Sans, sans-serif" font-size="19" fill="#111" text-anchor="middle">
<text x="1634" y="759" textLength="148" lengthAdjust="spacingAndGlyphs">T score [1](13.4%)</text>
<text transform="translate(1442,609) rotate(-90)" textLength="225" lengthAdjust="spacingAndGlyphs">orthogonal T score [1](6.7%)</text>
</g>
<text x="1647" y="507.5" font-family="Liberation Sans, sans-serif" font-size="9" fill="#444">Groups</text>
<circle cx="1654.6" cy="519.3" r="4.2" fill="#c0123c"/>
<circle cx="1654.6" cy="533.3" r="4.2" fill="#1a5294"/>
<g font-family="Liberation Sans, sans-serif" font-size="10.5" fill="#222">
<text x="1665" y="523" textLength="31" lengthAdjust="spacingAndGlyphs">Control</text>
<text x="1665" y="537" textLength="26" lengthAdjust="spacingAndGlyphs">CAVD</text>
</g>

</svg>
</body></html>
